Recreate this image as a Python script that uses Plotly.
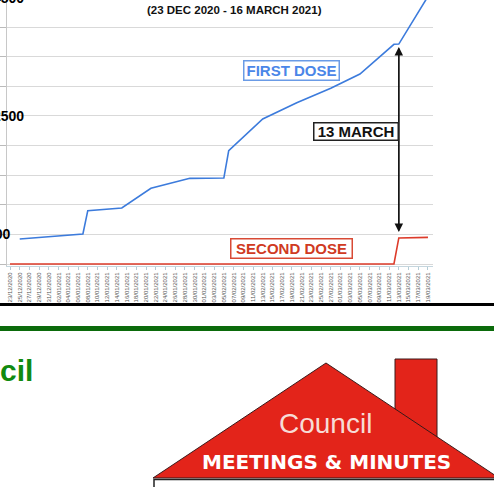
import plotly.graph_objects as go
import pandas as pd

# ---------------- data ----------------
first_dose_dates = ['2020-12-25', '2021-01-07', '2021-01-08', '2021-01-15', '2021-01-21',
                    '2021-01-29', '2021-02-05', '2021-02-06', '2021-02-13', '2021-02-20',
                    '2021-02-27', '2021-03-05', '2021-03-12', '2021-03-13', '2021-03-19']
first_dose_values = [422, 507, 900, 946, 1278, 1447, 1452, 1914, 2449, 2724,
                     2967, 3209, 3711, 3715, 4520]

second_dose_dates = ['2020-12-23', '2021-03-12', '2021-03-13', '2021-03-19']
second_dose_values = [0, 0, 440, 450]

tick_dates = pd.date_range('2020-12-23', '2021-03-19', freq='2D')
tick_labels = [d.strftime('%d/%m/%Y') for d in tick_dates]

y_tick_values = [500, 2500, 4500]
y_tick_labels = ['500', '2500', '4500']

title_text = '(23 DEC 2020 - 16 MARCH 2021)'
marker_date = '2021-03-13'
arrow_top_value = 3665
arrow_bottom_value = 540
marker_label_value = 2238

# ---------------- geometry helpers (page pixels -> paper) ----------------
W, H = 494, 487
PL, PR, PT, PB = 7, 433, 0, 266
Y_MIN, Y_MAX = -33.8, 4459


def px(x):
    return (x - PL) / (PR - PL)


def py(y):
    return (PB - y) / (PB - PT)


def vy(v):
    # data value -> paper y (used for labels that sit beyond the visible range)
    return (v - Y_MIN) / (Y_MAX - Y_MIN)


FONT = 'Liberation Sans, Arial, sans-serif'

fig = go.Figure()
fig.add_trace(go.Scatter(x=second_dose_dates, y=second_dose_values, mode='lines',
                         line=dict(color='#dd3b2a', width=1.6), hoverinfo='skip'))
fig.add_trace(go.Scatter(x=first_dose_dates, y=first_dose_values, mode='lines',
                         line=dict(color='#3c7bdc', width=1.6), hoverinfo='skip'))

fig.update_layout(
    template='none',
    width=W, height=H,
    margin=dict(l=PL, r=W - PR, t=PT, b=H - PB, pad=0),
    paper_bgcolor='white', plot_bgcolor='white',
    showlegend=False,
    font=dict(family=FONT),
)
fig.update_xaxes(
    type='date', range=['2020-12-22 09:10', '2021-03-20 00:50'],
    tickvals=list(tick_dates), ticktext=tick_labels, tickangle=-90,
    tickfont=dict(size=6, color='#555555', family=FONT),
    ticks='outside', ticklen=3, tickcolor='#b5ccd6',
    showline=True, linecolor='#c5d6de', linewidth=1,
    showgrid=False, zeroline=False, automargin=False,
)
fig.update_yaxes(
    range=[Y_MIN, Y_MAX], dtick=500, tick0=0,
    showticklabels=False, ticks='outside', ticklen=6, tickcolor='#bbbbbb',
    showgrid=True, gridcolor='#d9d9d9', gridwidth=1,
    showline=True, linecolor='#c8c8c8', linewidth=1,
    zeroline=False, automargin=False,
)

ann = []
# y tick labels (cut off by the page edge)
ann_pos = [13, 26, 26]
for v, t, r in zip(y_tick_values, y_tick_labels, ann_pos):
    ann.append(dict(x=px(r), xref='paper', y=vy(v), yref='paper', text='<b>%s</b>' % t,
                    xanchor='right', yanchor='middle', showarrow=False,
                    font=dict(size=14, color='black', family=FONT)))

ann.append(dict(x=px(235), y=py(10), xref='paper', yref='paper', text='<b>%s</b>' % title_text,
                showarrow=False, xanchor='center', yanchor='middle',
                font=dict(size=11.5, color='#111111', family=FONT)))

ann.append(dict(x=px(291), y=py(71), xref='paper', yref='paper', text='<b>FIRST DOSE</b>',
                showarrow=False, xanchor='center', yanchor='middle', width=94, height=18,
                bgcolor='white', bordercolor='#6a9be6', borderwidth=1.5, borderpad=0,
                font=dict(size=15, color='#4a86e8', family=FONT)))
ann.append(dict(x=px(291), y=py(248.5), xref='paper', yref='paper', text='<b>SECOND DOSE</b>',
                showarrow=False, xanchor='center', yanchor='middle', width=120, height=18,
                bgcolor='white', bordercolor='#d84a35', borderwidth=1.5, borderpad=0,
                font=dict(size=15, color='#d03a22', family=FONT)))

# double-headed arrow at 13 March
ann.append(dict(x=marker_date, y=arrow_top_value, ax=marker_date, ay=arrow_bottom_value,
                xref='x', yref='y', axref='x', ayref='y', text='', showarrow=True,
                arrowhead=2, arrowsize=1.3, arrowwidth=1.3, arrowcolor='#111111', standoff=0))
ann.append(dict(x=marker_date, y=arrow_bottom_value, ax=marker_date, ay=arrow_top_value,
                xref='x', yref='y', axref='x', ayref='y', text='', showarrow=True,
                arrowhead=2, arrowsize=1.3, arrowwidth=1.3, arrowcolor='#111111', standoff=0))
ann.append(dict(x=marker_date, y=marker_label_value, xref='x', yref='y', text='<b>13 MARCH</b>',
                showarrow=False, xanchor='right', yanchor='middle', width=83, height=16,
                bgcolor='white', bordercolor='#222222', borderwidth=1.5, borderpad=0,
                font=dict(size=15, color='#111111', family=FONT)))

# page content below the chart
ann.append(dict(x=px(-2), y=py(370), xref='paper', yref='paper', text='<b>cil</b>',
                showarrow=False, xanchor='left', yanchor='middle',
                font=dict(size=30, color='#108a10', family=FONT)))
ann.append(dict(x=px(325), y=py(423), xref='paper', yref='paper', text='Council',
                showarrow=False, xanchor='center', yanchor='middle',
                font=dict(size=28, color='#f7dcd6', family=FONT)))
ann.append(dict(x=px(326), y=py(462), xref='paper', yref='paper', text='<b>MEETINGS &amp; MINUTES</b>',
                showarrow=False, xanchor='center', yanchor='middle',
                font=dict(size=20, color='white', family='DejaVu Sans, sans-serif')))

shapes = []
shapes.append(dict(type='line', xref='paper', yref='paper', x0=px(-5), x1=px(500),
                   y0=py(304.5), y1=py(304.5), line=dict(color='black', width=3)))
shapes.append(dict(type='line', xref='paper', yref='paper', x0=px(-5), x1=px(500),
                   y0=py(328.5), y1=py(328.5), line=dict(color='#0b6b0b', width=5)))
# chimney
shapes.append(dict(type='rect', xref='paper', yref='paper', x0=px(395), x1=px(437),
                   y0=py(445), y1=py(359), fillcolor='#e3241a',
                   line=dict(color='#3a1a1a', width=1)))
# roof
roof = 'M %f,%f L %f,%f L %f,%f Z' % (px(153), py(478), px(326), py(363), px(499), py(478))
shapes.append(dict(type='path', xref='paper', yref='paper', path=roof, fillcolor='#e3241a',
                   line=dict(color='#3a1a1a', width=1)))
# wall
shapes.append(dict(type='rect', xref='paper', yref='paper', x0=px(154), x1=px(505),
                   y0=py(495), y1=py(479.5), fillcolor='rgba(0,0,0,0)',
                   line=dict(color='#222222', width=1.5)))

fig.update_layout(annotations=ann, shapes=shapes)
fig.write_html('out.html', config={'displayModeBar': False},
               post_script="document.body.style.margin='0';document.body.style.padding='0';"
                           "document.body.style.overflow='hidden';")
